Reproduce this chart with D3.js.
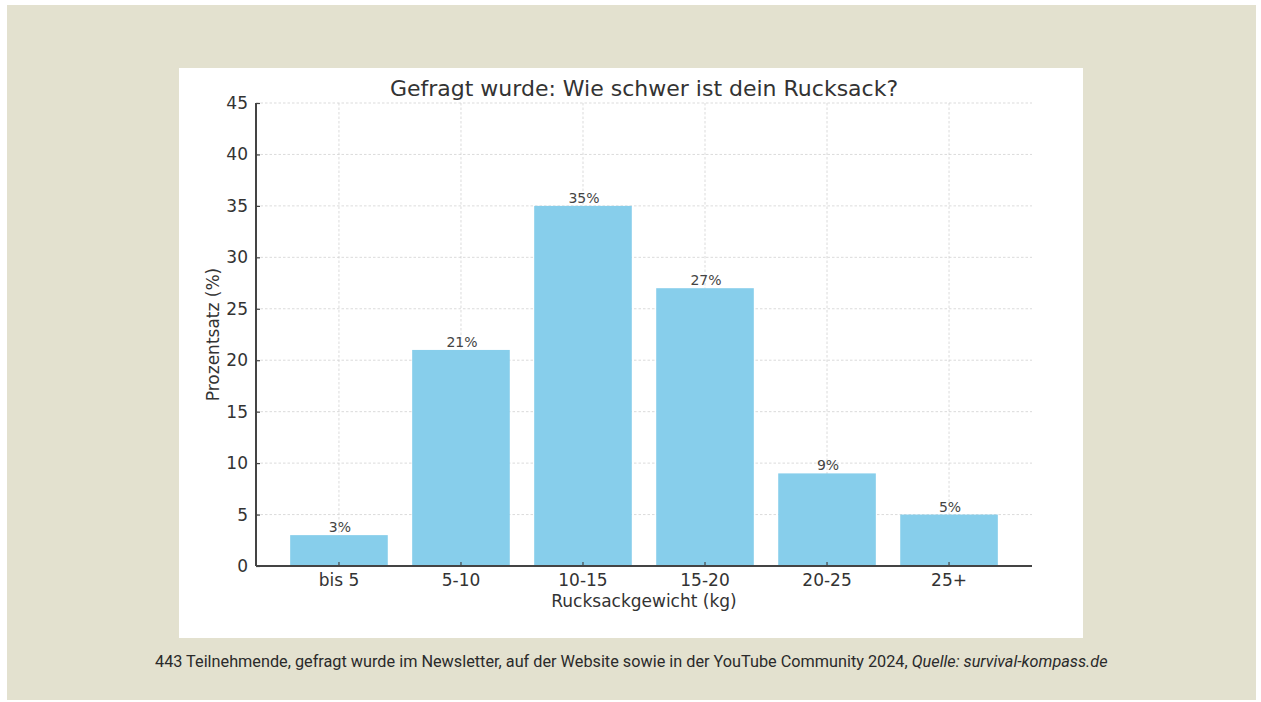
<!DOCTYPE html>
<html>
<head>
<meta charset="utf-8">
<script src="https://cdn.jsdelivr.net/npm/d3@7"></script>
<style>
  body { margin: 0; background: #fff; }
  svg { display: block; }
</style>
</head>
<body>
<svg id="chart"></svg>
<script>
// survey data
const categories = ["bis 5", "5-10", "10-15", "15-20", "20-25", "25+"];
const percents = [3, 21, 35, 27, 9, 5];
const yTicks = [0, 5, 10, 15, 20, 25, 30, 35, 40, 45];

const W = 1261, H = 702;
const svg = d3.select("#chart").attr("width", W).attr("height", H);

// beige panel + white chart card
svg.append("rect").attr("x", 7).attr("y", 5).attr("width", 1249).attr("height", 695).attr("fill", "#e3e1cf");
svg.append("rect").attr("x", 179).attr("y", 68).attr("width", 904).attr("height", 570).attr("fill", "#ffffff");

// plot area
const mar = { left: 256, right: 1032, top: 103, bottom: 566 };

const x = d3.scaleBand()
  .domain(categories)
  .range([mar.left, mar.right])
  .paddingInner(0.2)
  .paddingOuter(0.28);

const y = d3.scaleLinear()
  .domain([0, 45])
  .range([mar.bottom, mar.top]);

const font = "'DejaVu Sans', sans-serif";

// grid lines
const grid = svg.append("g").attr("stroke", "#d2d2d2").attr("stroke-width", 0.8).attr("stroke-dasharray", "2.5,2");
grid.selectAll(".hg").data(yTicks).enter().append("line")
  .attr("x1", mar.left).attr("x2", mar.right)
  .attr("y1", d => y(d)).attr("y2", d => y(d));
grid.selectAll(".vg").data(categories).enter().append("line")
  .attr("x1", d => x(d) + x.bandwidth() / 2).attr("x2", d => x(d) + x.bandwidth() / 2)
  .attr("y1", mar.top).attr("y2", mar.bottom);

// bars
svg.selectAll(".bar").data(categories).enter().append("rect")
  .attr("class", "bar")
  .attr("x", d => x(d))
  .attr("y", (d, i) => y(percents[i]))
  .attr("width", x.bandwidth())
  .attr("height", (d, i) => y(0) - y(percents[i]))
  .attr("fill", "#87ceeb");

// value labels
svg.selectAll(".lbl").data(categories).enter().append("text")
  .attr("x", d => x(d) + x.bandwidth() / 2 + 1)
  .attr("y", (d, i) => y(percents[i]) - 3)
  .attr("text-anchor", "middle")
  .attr("font-family", font)
  .attr("font-size", 14)
  .attr("fill", "#444")
  .text((d, i) => percents[i] + "%");

// axes
const yAxis = svg.append("g")
  .attr("transform", `translate(${mar.left},0)`)
  .call(d3.axisLeft(y).tickValues(yTicks).tickSize(-4).tickPadding(8));
const xAxis = svg.append("g")
  .attr("transform", `translate(0,${mar.bottom})`)
  .call(d3.axisBottom(x).tickSize(-4).tickPadding(8).tickSizeOuter(0));

[yAxis, xAxis].forEach(a => {
  a.select(".domain").attr("stroke", "#444").attr("stroke-width", 2);
  a.selectAll(".tick line").attr("stroke", "#444").attr("stroke-width", 1.2);
  a.selectAll(".tick text").attr("font-family", font).attr("font-size", 17).attr("fill", "#333");
});
yAxis.select(".domain").attr("d", `M0,${mar.bottom}V${mar.top}`);
xAxis.select(".domain").attr("d", `M${mar.left},0H${mar.right}`);

// title and axis labels
svg.append("text")
  .attr("x", (mar.left + mar.right) / 2).attr("y", 96)
  .attr("text-anchor", "middle")
  .attr("font-family", font).attr("font-size", 22).attr("fill", "#333")
  .text("Gefragt wurde: Wie schwer ist dein Rucksack?");

svg.append("text")
  .attr("x", (mar.left + mar.right) / 2).attr("y", 607)
  .attr("text-anchor", "middle")
  .attr("font-family", font).attr("font-size", 17).attr("fill", "#333")
  .text("Rucksackgewicht (kg)");

svg.append("text")
  .attr("transform", `translate(219,${(mar.top + mar.bottom) / 2}) rotate(-90)`)
  .attr("text-anchor", "middle")
  .attr("font-family", font).attr("font-size", 17).attr("fill", "#333")
  .text("Prozentsatz (%)");

// caption: one text, squeezed horizontally to the reference width
const capG = svg.append("g");
const cap = capG.append("text")
  .attr("x", 0).attr("y", 0)
  .attr("font-family", "Roboto, sans-serif").attr("font-size", 17).attr("fill", "#2a2a2a");
cap.append("tspan").text("443 Teilnehmende, gefragt wurde im Newsletter, auf der Website sowie in der YouTube Community 2024, ");
cap.append("tspan").attr("font-style", "italic").text("Quelle: survival-kompass.de");
const capW = cap.node().getComputedTextLength();
const sx = 953 / capW;
capG.attr("transform", `translate(155,667) scale(${sx},1)`);
</script>
</body>
</html>
